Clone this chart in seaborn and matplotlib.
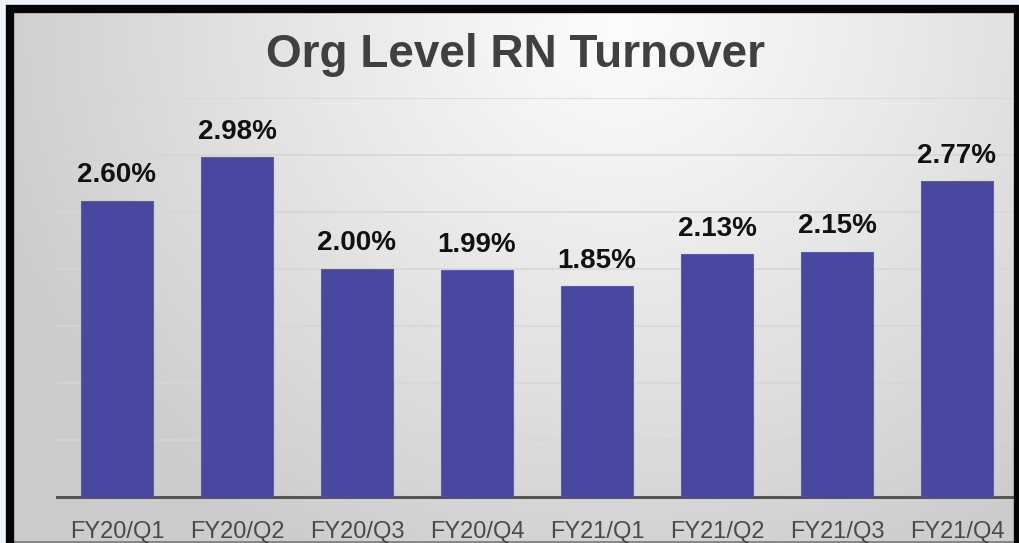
import numpy as np
import pandas as pd
import matplotlib
matplotlib.use("Agg")
import matplotlib.pyplot as plt
from matplotlib.patches import Rectangle
import seaborn as sns

# data
quarters = ["FY20/Q1", "FY20/Q2", "FY20/Q3", "FY20/Q4",
            "FY21/Q1", "FY21/Q2", "FY21/Q3", "FY21/Q4"]
turnover = [2.60, 2.98, 2.00, 1.99, 1.85, 2.13, 2.15, 2.77]

df = pd.DataFrame({"quarter": quarters, "turnover": turnover})

sns.set_theme(style="white")
plt.rcParams["font.family"] = ["Liberation Sans", "DejaVu Sans"]

W, H = 1019, 543
fig = plt.figure(figsize=(W / 100, H / 100), dpi=100)
fig.patch.set_facecolor("#eef3fa")

# ---------------- BACKGROUND PANEL ----------------
bg = fig.add_axes([0, 0, 1, 1], zorder=-5)
bg.set_axis_off()
yy, xx = np.mgrid[0:H, 0:W]
r = np.sqrt(((xx - 620) / 660.0) ** 2 + ((yy - 25) / 600.0) ** 2)
shade = 252 - 48 * np.clip(r, 0, 1) ** 1.1
img = np.dstack([shade, shade, shade]) / 255.0
bg.imshow(img, extent=[0, W, H, 0], aspect="auto")
bg.set_xlim(0, W)
bg.set_ylim(H, 0)
# clear outside of the frame
bg.add_patch(Rectangle((0, 0), 6, H, color="#eef3fa", zorder=3))
bg.add_patch(Rectangle((0, 0), W, 5, color="#eef3fa", zorder=3))
bg.plot([14, 1014], [541.5, 541.5], color="#7a7a7a", linewidth=1.2, zorder=4)

# ---------------- BAR CHART ----------------
x0, x1 = 57, 1017
ybase, ytop = 497, 98
ax = fig.add_axes([x0 / W, (H - ybase) / H, (x1 - x0) / W, (ybase - ytop) / H])
ax.set_facecolor("none")

sns.barplot(data=df, x="quarter", y="turnover", color="#4848a0",
            saturation=1, width=0.6, edgecolor="#5a5ab8", linewidth=0.8,
            ax=ax, zorder=3)

ax.set_ylim(0, 3.5)
ax.set_xlim(-0.5, 7.5)
ax.set_yticks(np.arange(0.5, 3.51, 0.5))
ax.yaxis.grid(True, color="#d6d6d6", linewidth=1.1, zorder=0)
ax.set_axisbelow(True)
ax.tick_params(axis="y", left=False, labelleft=False)
ax.tick_params(axis="x", bottom=False, labelsize=17, labelcolor="#4a4a4a", pad=11)
for s in ["top", "right", "left"]:
    ax.spines[s].set_visible(False)
ax.spines["bottom"].set_color("#555555")
ax.spines["bottom"].set_linewidth(2.2)
ax.set_xlabel("")
ax.set_ylabel("")

for i, v in enumerate(turnover):
    ax.annotate(f"{v:.2f}%", (i, v), xytext=(0, 9), textcoords="offset points",
                ha="center", va="bottom", fontsize=20, fontweight="bold",
                color="#111111")

fig.text(515 / W, 1 - 55 / H, "Org Level RN Turnover", ha="center", va="center",
         fontsize=33, fontweight="bold", color="#404040")

# frame (bottom edge runs off the picture)
fig.patches.append(Rectangle((10 / W, -20 / H), 1008 / W, (H - 9 + 20) / H,
                             transform=fig.transFigure, fill=False,
                             edgecolor="#050505", linewidth=6.0, zorder=10))

plt.savefig("out.png", dpi=100)
plt.close()
